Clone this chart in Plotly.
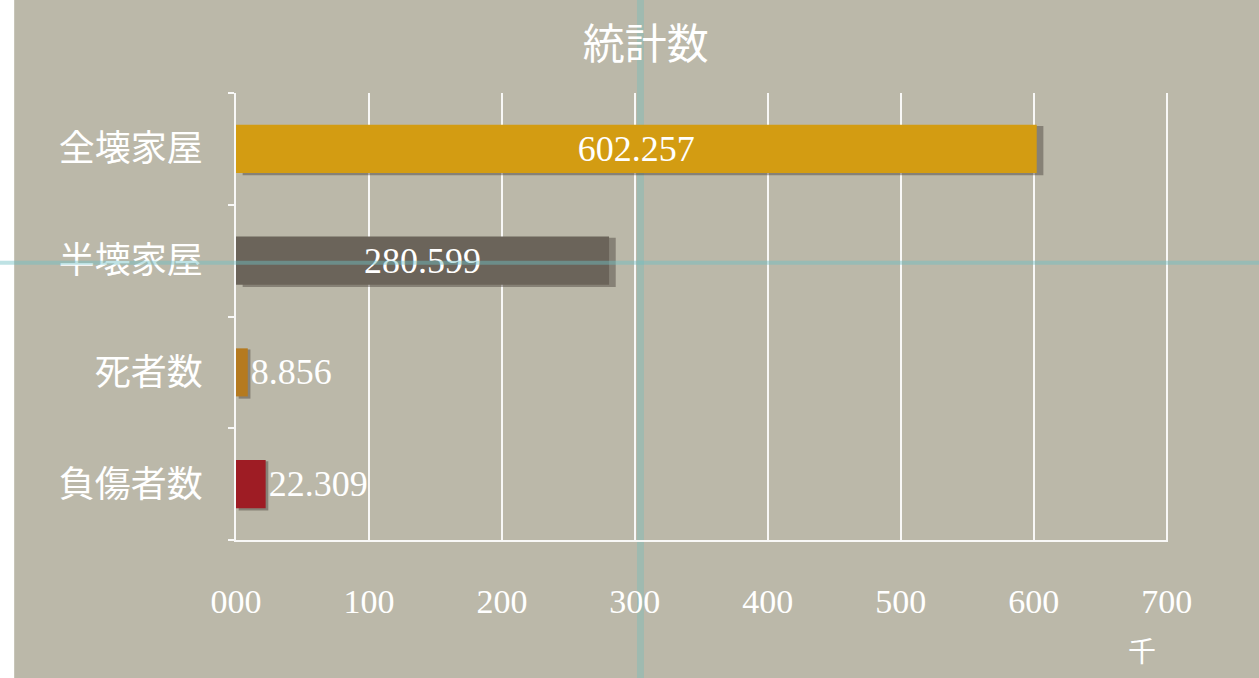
import plotly.graph_objects as go

categories = ["全壊家屋", "半壊家屋", "死者数", "負傷者数"]
values = [602.257, 280.599, 8.856, 22.309]
value_labels = ["602.257", "280.599", "8.856", "22.309"]
bar_colors = ["#d39c12", "#6b645a", "#b57a1f", "#9e1c24"]
tick_vals = [0, 100, 200, 300, 400, 500, 600, 700]
tick_text = ["000", "100", "200", "300", "400", "500", "600", "700"]
title_text = "統計数"
unit_text = "千"

serif = "Liberation Serif, 'Noto Sans CJK JP', serif"
cjk = "'Noto Sans CJK JP', 'Noto Sans CJK SC', sans-serif"
bg = "#bbb8a9"

fig = go.Figure()
# soft shadow behind bars (down/right)
fig.add_trace(go.Bar(
    x=values, y=categories, orientation="h",
    marker=dict(color="rgba(70,62,55,0.45)", line=dict(width=0)),
    width=0.44, offset=-0.235,
    base=[5, 5, 2, 2],
    hoverinfo="skip",
))
fig.add_trace(go.Bar(
    x=values, y=categories, orientation="h",
    marker=dict(color=bar_colors, line=dict(width=0)),
    width=0.43, offset=-0.215,
    text=value_labels,
    textposition=["inside", "inside", "outside", "outside"],
    insidetextanchor="middle",
    textfont=dict(family=serif, size=36, color="white"),
    outsidetextfont=dict(family=serif, size=36, color="white"),
    cliponaxis=False,
    hoverinfo="skip",
))

fig.update_layout(
    width=1259, height=678,
    margin=dict(l=236, r=91, t=93, b=138),
    paper_bgcolor=bg, plot_bgcolor=bg,
    showlegend=False, barmode="overlay",
    title=dict(text=title_text, x=0.513, xanchor="center", y=0.935, yanchor="middle",
               font=dict(family=cjk, size=42, color="white")),
    xaxis=dict(range=[0, 701], tickvals=tick_vals, ticktext=tick_text,
               showgrid=True, gridcolor="rgba(255,255,255,0.9)", gridwidth=2,
               zeroline=False, showline=True, linecolor="rgba(255,255,255,0.9)", linewidth=2,
               ticks="", ticklabelstandoff=30,
               tickfont=dict(family=serif, size=34, color="white"), fixedrange=True),
    yaxis=dict(categoryorder="array", categoryarray=categories[::-1],
               showgrid=False, showline=True, linecolor="rgba(255,255,255,0.9)", linewidth=2,
               ticks="outside", tickson="boundaries", ticklen=6, tickcolor="rgba(255,255,255,0.9)",
               tickwidth=2, ticklabelstandoff=24,
               tickfont=dict(family=cjk, size=36, color="white"), fixedrange=True),
    annotations=[dict(text=unit_text, xref="paper", yref="paper", x=0.972, y=-0.245,
                      xanchor="center", yanchor="middle", showarrow=False,
                      font=dict(family=cjk, size=28, color="white"))],
    shapes=[
        dict(type="rect", xref="paper", yref="paper", x0=-0.254, x1=-0.238, y0=-0.31, y1=1.21,
             fillcolor="white", line=dict(width=0), layer="below"),
        dict(type="line", xref="paper", yref="paper", x0=-0.254, x1=1.1, y0=0.62, y1=0.62,
             line=dict(color="rgba(110,190,195,0.45)", width=4), layer="above"),
        dict(type="line", xref="paper", yref="paper", x0=0.434, x1=0.434, y0=-0.31, y1=1.21,
             line=dict(color="rgba(110,190,190,0.35)", width=7), layer="below"),
    ],
)

fig.write_html("out.html")
